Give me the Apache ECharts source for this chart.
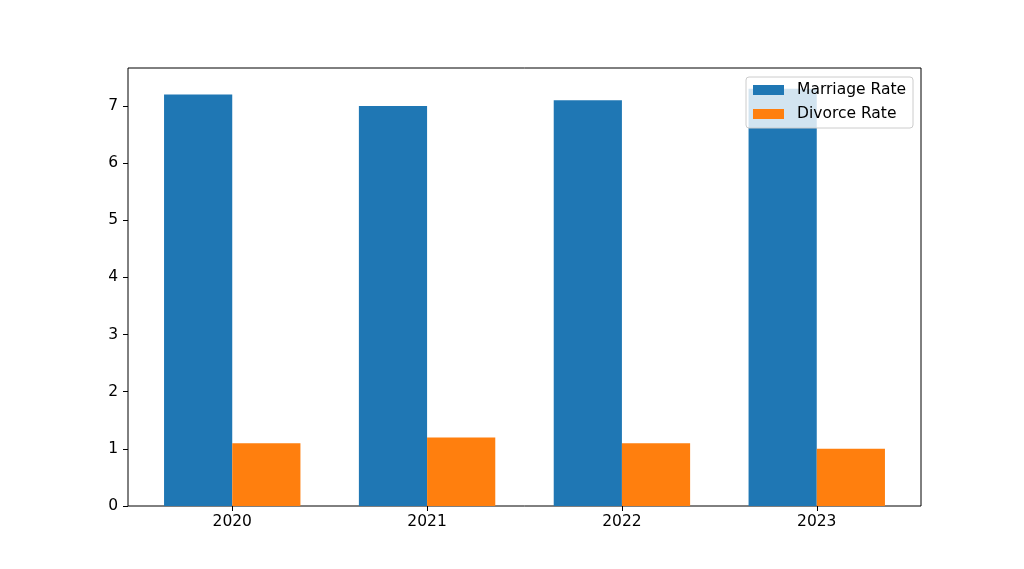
<!DOCTYPE html>
<html>
<head>
<meta charset="utf-8">
<script src="https://cdn.jsdelivr.net/npm/echarts@6/dist/echarts.min.js"></script>
<style>html,body{margin:0;padding:0;background:#fff}#c{width:1024px;height:569px}</style>
</head>
<body>
<div id="c"></div>
<script>
const categories = ['2020', '2021', '2022', '2023'];
const marriageRate = [7.2, 7.0, 7.1, 7.3];
const divorceRate = [1.1, 1.2, 1.1, 1.0];
const yTicks = [0, 1, 2, 3, 4, 5, 6, 7];

const yMax = Math.max(...marriageRate, ...divorceRate) * 1.05;
const font = 'DejaVu Sans';
// plot frame
const L = 128, T = 68, W = 793, H = 438;
const xlimMin = -0.535, xlimMax = 3.535;
const pxPerUnit = W / (xlimMax - xlimMin);
const bandLeft = L + (-0.5 - xlimMin) * pxPerUnit;
const bandWidth = categories.length * pxPerUnit;

const chart = echarts.init(document.getElementById('c'), null, {renderer: 'canvas'});
chart.setOption({
  animation: false,
  backgroundColor: '#fff',
  textStyle: {fontFamily: font},
  grid: [
    {left: L, top: T, width: W, height: H, show: true, borderColor: '#000', borderWidth: 1, backgroundColor: 'transparent', containLabel: false},
    {left: bandLeft, top: T, width: bandWidth, height: H, containLabel: false}
  ],
  xAxis: [
    {gridIndex: 0, type: 'value', min: 0, max: 1, show: false},
    {gridIndex: 1, type: 'category', data: categories,
      axisLine: {show: false},
      axisTick: {show: true, alignWithLabel: true, length: 5, lineStyle: {color: '#000', width: 1}},
      axisLabel: {color: '#000', fontSize: 15.5, fontFamily: font, margin: 8},
      splitLine: {show: false}}
  ],
  yAxis: [
    {gridIndex: 0, type: 'value', min: 0, max: yMax,
      axisLine: {show: false},
      axisTick: {show: true, length: 5, customValues: yTicks, lineStyle: {color: '#000', width: 1}},
      axisLabel: {color: '#000', fontSize: 15.5, fontFamily: font, margin: 10, customValues: yTicks},
      splitLine: {show: false}},
    {gridIndex: 1, type: 'value', min: 0, max: yMax, show: false, splitLine: {show: false}}
  ],
  legend: {
    orient: 'vertical', right: 111, top: 77,
    itemWidth: 31, itemHeight: 10, itemGap: 8,
    padding: [5, 7, 6, 7],
    backgroundColor: 'rgba(255,255,255,0.8)', borderColor: '#cccccc', borderWidth: 1, borderRadius: 3,
    textStyle: {color: '#000', fontSize: 15.5, fontFamily: font, padding: [0, 0, 0, 8], lineHeight: 16},
    icon: 'rect',
    data: ['Marriage Rate', 'Divorce Rate']
  },
  series: [
    {name: 'Marriage Rate', type: 'bar', xAxisIndex: 1, yAxisIndex: 1, data: marriageRate,
      barWidth: 0.35 * pxPerUnit, barGap: '0%', itemStyle: {color: '#1f77b4'}},
    {name: 'Divorce Rate', type: 'bar', xAxisIndex: 1, yAxisIndex: 1, data: divorceRate,
      barWidth: 0.35 * pxPerUnit, barGap: '0%', itemStyle: {color: '#ff7f0e'}}
  ]
});
</script>
</body>
</html>
